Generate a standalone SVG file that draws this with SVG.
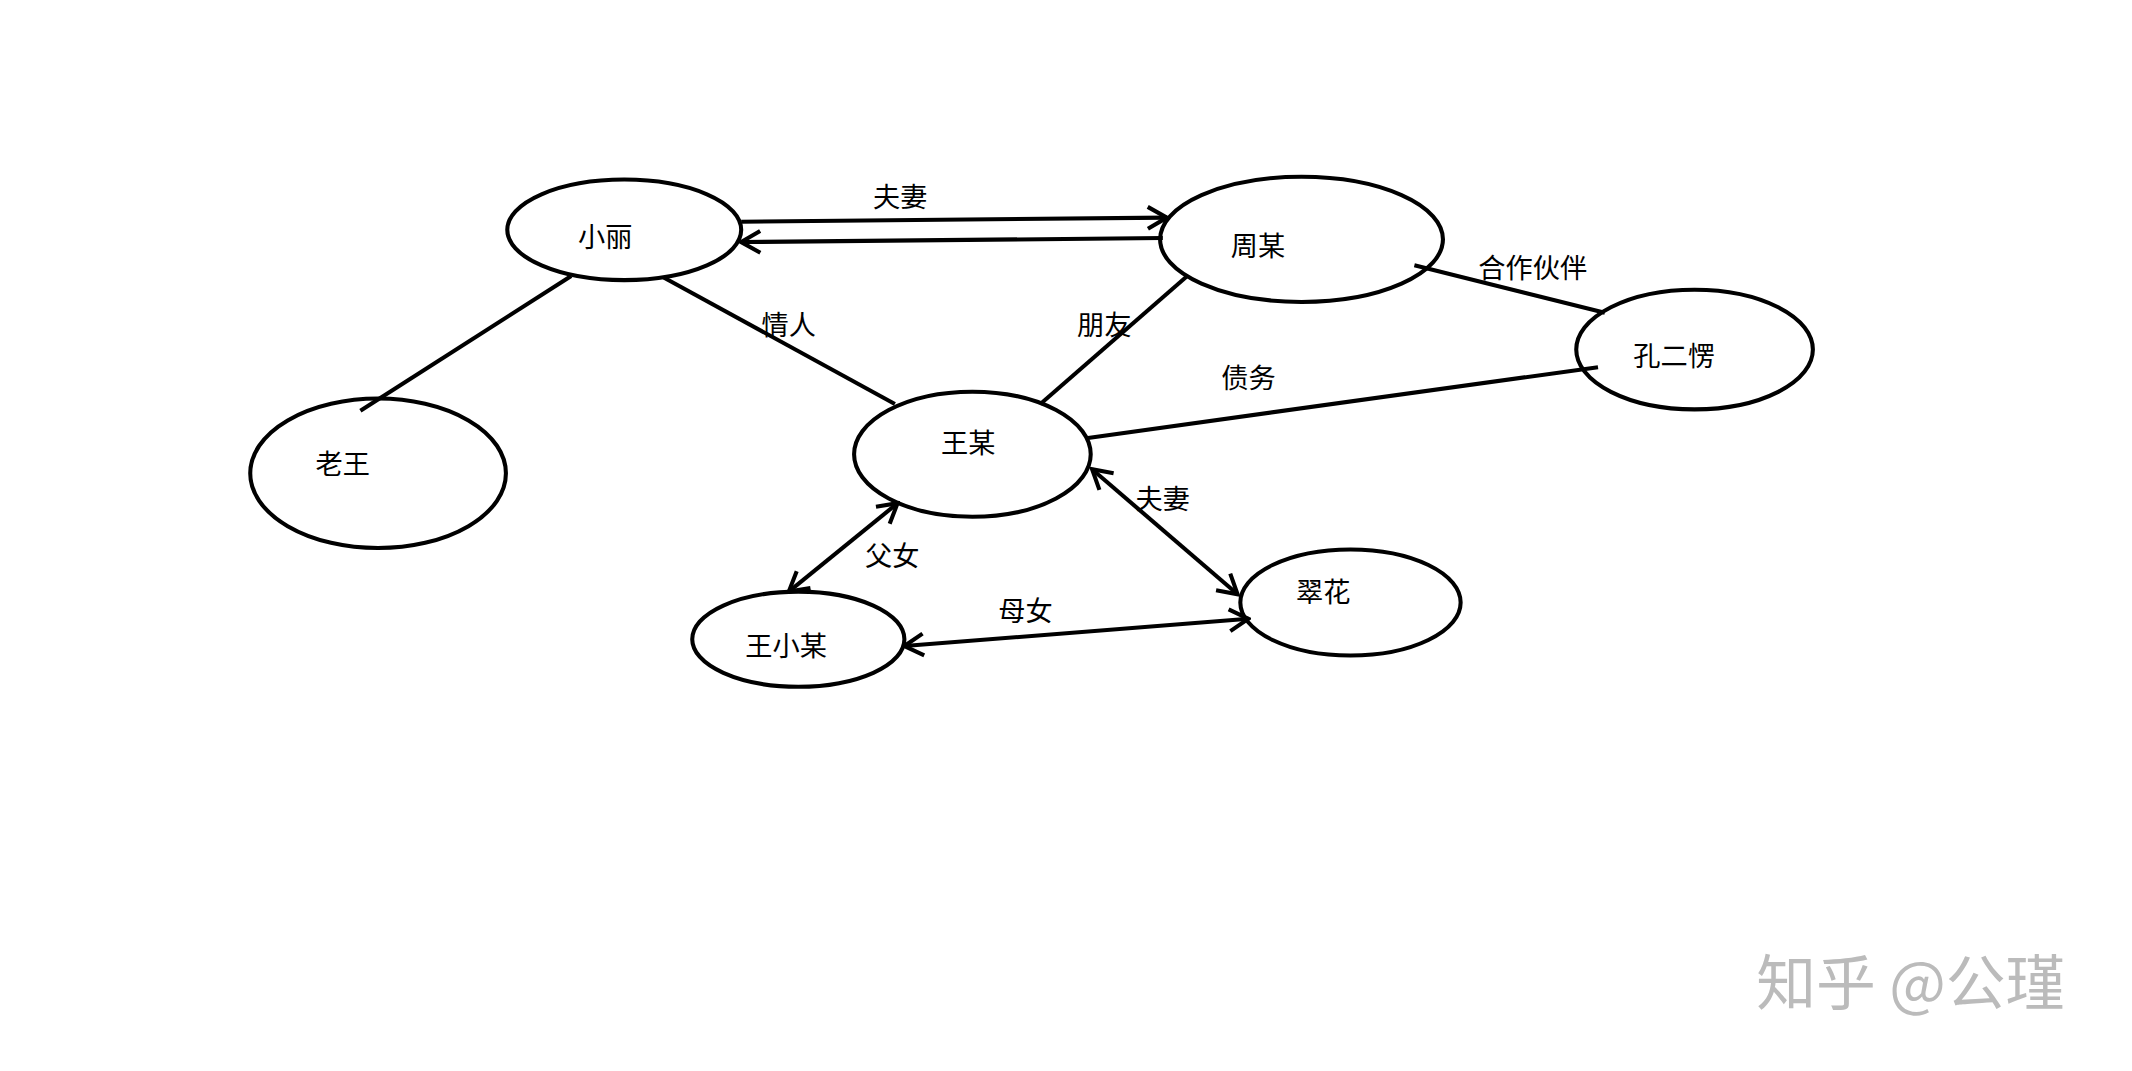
<svg xmlns="http://www.w3.org/2000/svg" width="2132" height="1071" viewBox="0 0 2132 1071">
<style>
.n{fill:none;stroke:#000;stroke-width:3}
.e{fill:none;stroke:#000;stroke-width:3}
text{font-family:"Noto Sans CJK SC","Liberation Sans",sans-serif;font-size:20px;fill:#000;text-anchor:middle;dominant-baseline:middle}
.wm{font-size:44px;fill:#bbb}
</style>
<defs>
<marker id="a" viewBox="0 0 20 20" refX="18" refY="10" markerWidth="20" markerHeight="20" markerUnits="userSpaceOnUse" orient="auto-start-reverse">
<polyline points="4,2 18,10 4,18" fill="none" stroke="#000" stroke-width="3"/>
</marker>
</defs>
<rect width="2132" height="1071" fill="#fff"/>
<g transform="scale(1.36)">
<g id="edges">
<line class="e" x1="545" y1="163" x2="858" y2="160" marker-end="url(#a)"/>
<line class="e" x1="545" y1="178" x2="855" y2="175" marker-start="url(#a)"/>
<line class="e" x1="420" y1="203" x2="265" y2="302"/>
<line class="e" x1="488" y1="204" x2="658" y2="297"/>
<line class="e" x1="873" y1="203" x2="765" y2="297"/>
<line class="e" x1="1040" y1="195" x2="1180" y2="230"/>
<line class="e" x1="800" y1="322" x2="1175" y2="270"/>
<line class="e" x1="803" y1="345" x2="910" y2="437" marker-start="url(#a)" marker-end="url(#a)"/>
<line class="e" x1="660" y1="370" x2="580" y2="435" marker-start="url(#a)" marker-end="url(#a)"/>
<line class="e" x1="665" y1="475" x2="918" y2="455" marker-start="url(#a)" marker-end="url(#a)"/>
<text x="662" y="147">夫妻</text>
<text x="580" y="241">情人</text>
<text x="812" y="241">朋友</text>
<text x="1127" y="199">合作伙伴</text>
<text x="918" y="280">债务</text>
<text x="855" y="369">夫妻</text>
<text x="656" y="411">父女</text>
<text x="754" y="451">母女</text>
</g>
<g id="xiaoli"><ellipse class="n" cx="459" cy="169" rx="86" ry="37"/><text x="445" y="176">小丽</text></g>
<g id="zhou"><ellipse class="n" cx="957" cy="176" rx="104" ry="46"/><text x="925" y="183">周某</text></g>
<g id="kong"><ellipse class="n" cx="1246" cy="257" rx="87" ry="44"/><text x="1231" y="264">孔二愣</text></g>
<g id="laowang"><ellipse class="n" cx="278" cy="348" rx="94" ry="55"/><text x="252" y="343">老王</text></g>
<g id="wang"><ellipse class="n" cx="715" cy="334" rx="87" ry="46"/><text x="712" y="328">王某</text></g>
<g id="cuihua"><ellipse class="n" cx="993" cy="443" rx="81" ry="39"/><text x="973" y="437">翠花</text></g>
<g id="wxm"><ellipse class="n" cx="587" cy="470" rx="78" ry="35"/><text x="578" y="477">王小某</text></g>
<text class="wm" x="1405" y="727">知乎 @公瑾</text>
</g>
</svg>
